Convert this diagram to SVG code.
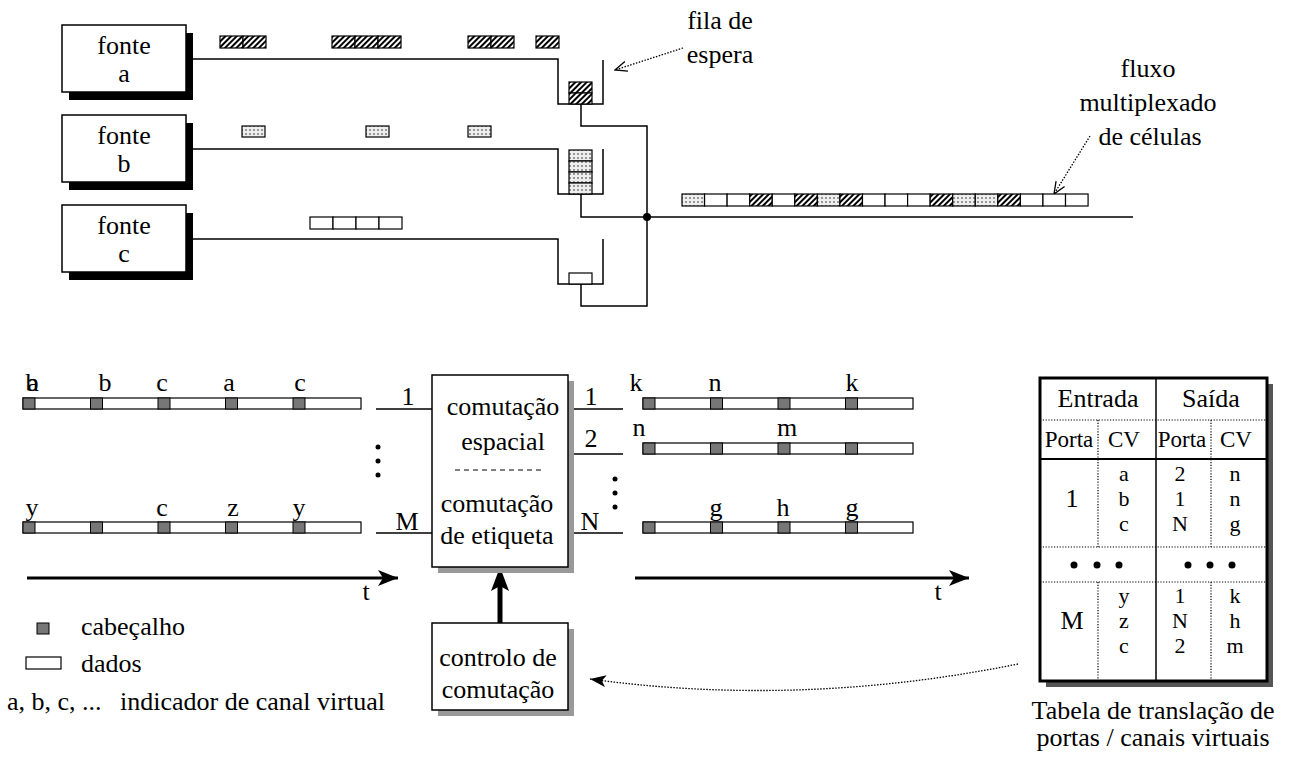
<svg xmlns="http://www.w3.org/2000/svg" width="1289" height="758" viewBox="0 0 1289 758">
<style>
text{font-family:"Liberation Serif","Times New Roman",serif;font-size:26px;fill:#000}
.m{text-anchor:middle}
.s{font-size:23px}
.v{font-size:22px}
.ln{fill:none;stroke:#000;stroke-width:1.5}
.box{fill:#fff;stroke:#000;stroke-width:1.5}
.c{stroke:#000;stroke-width:1.2}
.hat{fill:url(#hatch)}
.dt{fill:url(#dots)}
.w{fill:#fff}
.hdr{fill:#777;stroke:#000;stroke-width:1}
.dot{fill:none;stroke:#000;stroke-width:1.3;stroke-dasharray:1.5 1.5}
.tdot{fill:none;stroke:#000;stroke-width:1.2;stroke-dasharray:1.2 1.6}
</style>
<defs>
<pattern id="hatch" width="4" height="4" patternUnits="userSpaceOnUse" patternTransform="rotate(45)"><rect width="4" height="4" fill="#fff"/><rect width="2" height="4" fill="#000"/></pattern>
<pattern id="dots" width="4" height="4" patternUnits="userSpaceOnUse"><rect width="4" height="4" fill="#eee"/><circle cx="2" cy="2" r="0.7" fill="#000"/></pattern>
<marker id="arrT" viewBox="0 0 20 16" refX="20" refY="8" markerWidth="20" markerHeight="16" markerUnits="userSpaceOnUse" orient="auto"><path d="M0,0 L20,8 L0,16 L5,8 z" fill="#000"/></marker>
<marker id="arrV" viewBox="0 0 14 12" refX="13" refY="6" markerWidth="14" markerHeight="12" markerUnits="userSpaceOnUse" orient="auto"><path d="M1,1 L13,6 L1,11" fill="none" stroke="#000" stroke-width="1.3"/></marker>
<marker id="arrF" viewBox="0 0 16 12" refX="16" refY="6" markerWidth="16" markerHeight="12" markerUnits="userSpaceOnUse" orient="auto"><path d="M0,0 L16,6 L0,12 L4,6 z" fill="#000"/></marker>
</defs>

<g id="connectors">
<path class="ln" d="M193,59 H558 V104 H603 V60"/>
<path class="ln" d="M193,149 H558 V194 H603 V149"/>
<path class="ln" d="M193,239 H558 V284 H603 V239"/>
<path class="ln" d="M581,104 V126 H647 V306 H581 V284"/>
<path class="ln" d="M581,194 V217 H1133"/>
<circle cx="647" cy="217" r="4" fill="#000"/>
<path class="dot" d="M683,48 L615,70" marker-end="url(#arrV)"/>
<path class="dot" d="M1090,136 L1054,194" marker-end="url(#arrV)"/>
<path class="ln" d="M376,409 H432 M376,533 H432 M568,409 H623 M568,454 H623 M568,533 H623"/>
<line x1="27" y1="578" x2="398" y2="578" stroke="#000" stroke-width="3" marker-end="url(#arrT)"/>
<line x1="635" y1="578" x2="969" y2="578" stroke="#000" stroke-width="3" marker-end="url(#arrT)"/>
<line x1="500" y1="623" x2="500" y2="586" stroke="#000" stroke-width="5"/>
<polygon points="491,591 500,567 509,591 500,586" fill="#000"/>
<path class="dot" d="M1018,664 Q800,708 590,679" marker-end="url(#arrF)"/>
</g>

<g id="source-a">
<rect x="69" y="33" width="124" height="67" fill="#000"/>
<rect class="box" x="62" y="25" width="124" height="67"/>
<text class="m" x="124" y="54">fonte</text><text class="m" x="124" y="82">a</text>
</g>
<g id="source-b">
<rect x="69" y="123" width="124" height="67" fill="#000"/>
<rect class="box" x="62" y="115" width="124" height="67"/>
<text class="m" x="124" y="144">fonte</text><text class="m" x="124" y="172">b</text>
</g>
<g id="source-c">
<rect x="69" y="213" width="124" height="67" fill="#000"/>
<rect class="box" x="62" y="205" width="124" height="67"/>
<text class="m" x="124" y="234">fonte</text><text class="m" x="124" y="262">c</text>
</g>

<g id="cells-a">
<rect class="c hat" x="220" y="36" width="23" height="12"/><rect class="c hat" x="243" y="36" width="23" height="12"/>
<rect class="c hat" x="332" y="36" width="23" height="12"/><rect class="c hat" x="355" y="36" width="23" height="12"/><rect class="c hat" x="378" y="36" width="23" height="12"/>
<rect class="c hat" x="468" y="36" width="23" height="12"/><rect class="c hat" x="491" y="36" width="23" height="12"/>
<rect class="c hat" x="536" y="36" width="23" height="12"/>
<rect class="c hat" x="569" y="82" width="23" height="11"/><rect class="c hat" x="569" y="93" width="23" height="11"/>
</g>
<g id="cells-b">
<rect class="c dt" x="242" y="126" width="23" height="11"/><rect class="c dt" x="366" y="126" width="23" height="11"/><rect class="c dt" x="468" y="126" width="23" height="11"/>
<rect class="c dt" x="569" y="150" width="23" height="11"/><rect class="c dt" x="569" y="161" width="23" height="11"/><rect class="c dt" x="569" y="172" width="23" height="11"/><rect class="c dt" x="569" y="183" width="23" height="11"/>
</g>
<g id="cells-c">
<rect class="c w" x="310" y="217" width="23" height="12"/><rect class="c w" x="333" y="217" width="23" height="12"/><rect class="c w" x="356" y="217" width="23" height="12"/><rect class="c w" x="379" y="217" width="23" height="12"/>
<rect class="c w" x="569" y="273" width="23" height="11"/>
</g>
<g id="queue-label">
<text class="m" x="720" y="29">fila de</text><text class="m" x="720" y="63">espera</text>
</g>
<g id="stream">
<rect class="c dt" x="682" y="194" width="22.56" height="12"/>
<rect class="c w" x="704.56" y="194" width="22.56" height="12"/>
<rect class="c w" x="727.12" y="194" width="22.56" height="12"/>
<rect class="c hat" x="749.68" y="194" width="22.56" height="12"/>
<rect class="c w" x="772.24" y="194" width="22.56" height="12"/>
<rect class="c hat" x="794.8" y="194" width="22.56" height="12"/>
<rect class="c dt" x="817.36" y="194" width="22.56" height="12"/>
<rect class="c hat" x="839.92" y="194" width="22.56" height="12"/>
<rect class="c w" x="862.48" y="194" width="22.56" height="12"/>
<rect class="c w" x="885.04" y="194" width="22.56" height="12"/>
<rect class="c w" x="907.6" y="194" width="22.56" height="12"/>
<rect class="c hat" x="930.16" y="194" width="22.56" height="12"/>
<rect class="c dt" x="952.72" y="194" width="22.56" height="12"/>
<rect class="c dt" x="975.28" y="194" width="22.56" height="12"/>
<rect class="c hat" x="997.84" y="194" width="22.56" height="12"/>
<rect class="c w" x="1020.4" y="194" width="22.56" height="12"/>
<rect class="c w" x="1042.96" y="194" width="22.56" height="12"/>
<rect class="c w" x="1065.52" y="194" width="22.56" height="12"/>
<text class="m" x="1148" y="77">fluxo</text><text class="m" x="1148" y="111">multiplexado</text><text class="m" x="1150" y="145">de células</text>
</g>

<g id="input-1">
<rect class="c w" x="23" y="398" width="338" height="11"/>
<rect class="hdr" x="23" y="398" width="12" height="11"/><rect class="hdr" x="90.5" y="398" width="12" height="11"/><rect class="hdr" x="158" y="398" width="12" height="11"/><rect class="hdr" x="225.5" y="398" width="12" height="11"/><rect class="hdr" x="293" y="398" width="12" height="11"/>
<text class="m" x="32" y="391">b</text><text class="m" x="33" y="391">a</text><text class="m" x="105" y="391">b</text><text class="m" x="162" y="391">c</text><text class="m" x="229" y="391">a</text><text class="m" x="300" y="391">c</text>
<text class="m" x="408" y="405">1</text>
</g>
<g id="input-M">
<rect class="c w" x="23" y="522" width="338" height="11"/>
<rect class="hdr" x="23" y="522" width="12" height="11"/><rect class="hdr" x="90.5" y="522" width="12" height="11"/><rect class="hdr" x="158" y="522" width="12" height="11"/><rect class="hdr" x="225.5" y="522" width="12" height="11"/><rect class="hdr" x="293" y="522" width="12" height="11"/>
<text class="m" x="32" y="516">y</text><text class="m" x="162" y="516">c</text><text class="m" x="233" y="516">z</text><text class="m" x="299" y="516">y</text>
<text class="m" x="407" y="530">M</text>
<circle cx="378" cy="447" r="2.5"/><circle cx="378" cy="461" r="2.5"/><circle cx="378" cy="475" r="2.5"/>
<text class="m" x="366" y="600">t</text>
</g>

<g id="switch">
<rect x="438" y="381" width="136" height="192" fill="#999"/>
<rect class="box" x="432" y="375" width="136" height="192"/>
<text class="m" x="503" y="415">comutação</text>
<text class="m" x="503" y="450">espacial</text>
<line x1="455" y1="470" x2="545" y2="470" stroke="#000" stroke-width="1" stroke-dasharray="5 4"/>
<text class="m" x="497" y="512">comutação</text>
<text class="m" x="497" y="544">de etiqueta</text>
</g>

<g id="output-1">
<rect class="c w" x="643" y="398" width="270" height="11"/>
<rect class="hdr" x="643" y="398" width="12" height="11"/><rect class="hdr" x="710.5" y="398" width="12" height="11"/><rect class="hdr" x="778" y="398" width="12" height="11"/><rect class="hdr" x="845.5" y="398" width="12" height="11"/>
<text class="m" x="636" y="391">k</text><text class="m" x="715" y="391">n</text><text class="m" x="852" y="391">k</text>
<text class="m" x="591" y="405">1</text>
</g>
<g id="output-2">
<rect class="c w" x="643" y="443" width="270" height="11"/>
<rect class="hdr" x="643" y="443" width="12" height="11"/><rect class="hdr" x="710.5" y="443" width="12" height="11"/><rect class="hdr" x="778" y="443" width="12" height="11"/><rect class="hdr" x="845.5" y="443" width="12" height="11"/>
<text class="m" x="639" y="436">n</text><text class="m" x="787" y="436">m</text>
<text class="m" x="591" y="447">2</text>
</g>
<g id="output-N">
<rect class="c w" x="643" y="522" width="270" height="11"/>
<rect class="hdr" x="643" y="522" width="12" height="11"/><rect class="hdr" x="710.5" y="522" width="12" height="11"/><rect class="hdr" x="778" y="522" width="12" height="11"/><rect class="hdr" x="845.5" y="522" width="12" height="11"/>
<text class="m" x="716" y="516">g</text><text class="m" x="783" y="516">h</text><text class="m" x="852" y="516">g</text>
<text class="m" x="590" y="530">N</text>
<circle cx="615" cy="479" r="2.5"/><circle cx="615" cy="493" r="2.5"/><circle cx="615" cy="507" r="2.5"/>
<text class="m" x="938" y="600">t</text>
</g>

<g id="control">
<rect x="438" y="629" width="136" height="87" fill="#999"/>
<rect class="box" x="432" y="623" width="136" height="87"/>
<text class="m" x="498" y="666">controlo de</text>
<text class="m" x="498" y="698">comutação</text>
</g>

<g id="legend">
<rect class="hdr" x="37" y="623" width="12" height="11"/>
<text x="81" y="635">cabeçalho</text>
<rect class="c w" x="26" y="657" width="35" height="12"/>
<text x="81" y="672">dados</text>
<text x="7" y="710">a, b, c, ...</text>
<text x="120" y="710">indicador de canal virtual</text>
</g>

<g id="table">
<rect x="1046" y="384" width="227" height="303" fill="#555"/>
<rect x="1040" y="378" width="227" height="303" fill="#fff" stroke="#000" stroke-width="3"/>
<line x1="1156" y1="378" x2="1156" y2="681" stroke="#000" stroke-width="1.5"/>
<line x1="1040" y1="459" x2="1267" y2="459" stroke="#000" stroke-width="2"/>
<path class="tdot" d="M1040,420 H1267 M1040,547 H1267 M1040,582 H1267 M1098,420 V547 M1098,582 V681 M1211,420 V547 M1211,582 V681"/>
<text class="m" x="1098" y="407">Entrada</text><text class="m" x="1211" y="407">Saída</text>
<text class="m s" x="1069" y="447">Porta</text><text class="m s" x="1124" y="447">CV</text><text class="m s" x="1182" y="447">Porta</text><text class="m s" x="1236" y="447">CV</text>
<text class="m" x="1072" y="507">1</text>
<text class="m v" x="1124" y="481">a<tspan x="1124" dy="25">b</tspan><tspan x="1124" dy="25">c</tspan></text>
<text class="m v" x="1180" y="481">2<tspan x="1180" dy="25">1</tspan><tspan x="1180" dy="25">N</tspan></text>
<text class="m v" x="1235" y="481">n<tspan x="1235" dy="25">n</tspan><tspan x="1235" dy="25">g</tspan></text>
<circle cx="1074" cy="565" r="3.5"/><circle cx="1097" cy="565" r="3.5"/><circle cx="1119" cy="565" r="3.5"/>
<circle cx="1188" cy="565" r="3.5"/><circle cx="1210" cy="565" r="3.5"/><circle cx="1232" cy="565" r="3.5"/>
<text class="m" x="1072" y="629">M</text>
<text class="m v" x="1124" y="603">y<tspan x="1124" dy="25">z</tspan><tspan x="1124" dy="25">c</tspan></text>
<text class="m v" x="1180" y="603">1<tspan x="1180" dy="25">N</tspan><tspan x="1180" dy="25">2</tspan></text>
<text class="m v" x="1235" y="603">k<tspan x="1235" dy="25">h</tspan><tspan x="1235" dy="25">m</tspan></text>
<text class="m" x="1153" y="719">Tabela de translação de</text>
<text class="m" x="1153" y="746">portas / canais virtuais</text>
</g>
</svg>
